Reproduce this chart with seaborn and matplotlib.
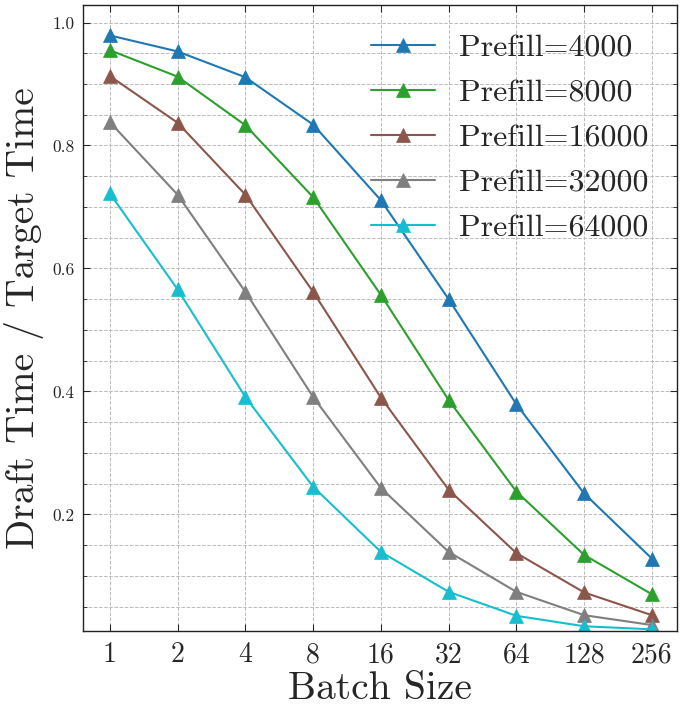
import numpy as np
import pandas as pd
import seaborn as sns
import matplotlib
matplotlib.use("Agg")
import matplotlib.pyplot as plt
from matplotlib.ticker import MultipleLocator, FixedLocator, NullLocator, FixedFormatter

batch_sizes = [1, 2, 4, 8, 16, 32, 64, 128, 256]
batch_labels = ["1", "2", "4", "8", "16", "32", "64", "128", "256"]
prefill_labels = ["Prefill=4000", "Prefill=8000", "Prefill=16000", "Prefill=32000", "Prefill=64000"]
ratio_4000 = [0.979, 0.953, 0.911, 0.834, 0.711, 0.550, 0.379, 0.234, 0.128]
ratio_8000 = [0.955, 0.912, 0.833, 0.716, 0.557, 0.386, 0.237, 0.134, 0.070]
ratio_16000 = [0.913, 0.837, 0.720, 0.562, 0.390, 0.240, 0.137, 0.073, 0.036]
ratio_32000 = [0.838, 0.720, 0.562, 0.391, 0.243, 0.139, 0.074, 0.036, 0.020]
ratio_64000 = [0.722, 0.566, 0.391, 0.245, 0.139, 0.074, 0.035, 0.018, 0.013]
colors = ["#1f77b4", "#2ca02c", "#8c564b", "#7f7f7f", "#17becf"]

series = [ratio_4000, ratio_8000, ratio_16000, ratio_32000, ratio_64000]
rows = []
for lab, vals in zip(prefill_labels, series):
    for b, v in zip(batch_sizes, vals):
        rows.append({"Batch Size": b, "Ratio": v, "Prefill": lab})
df = pd.DataFrame(rows)

sns.set_style("ticks")
plt.rcParams["font.family"] = ["cmr10"]
plt.rcParams["mathtext.fontset"] = "cm"
plt.rcParams["axes.formatter.use_mathtext"] = True
plt.rcParams["axes.unicode_minus"] = False

fig = plt.figure(figsize=(6.84, 7.09), dpi=100)
ax = fig.add_axes([82.7 / 684, 1 - 631 / 709, (677 - 82.7) / 684, (631 - 4.7) / 709])

sns.lineplot(data=df, x="Batch Size", y="Ratio", hue="Prefill", hue_order=prefill_labels,
             palette=colors, marker="^", markersize=10, markeredgewidth=0.5,
             linewidth=1.5, dashes=False, ax=ax, legend=True)
for ln in ax.get_lines():
    ln.set_markeredgecolor(ln.get_color())

ax.set_xscale("log", base=2)
ax.set_xlim(2 ** -0.40, 256 * 2 ** 0.37)
ax.set_ylim(0.0103, 1.029)
ax.xaxis.set_major_locator(FixedLocator(batch_sizes))
ax.xaxis.set_major_formatter(FixedFormatter(batch_labels))
ax.xaxis.set_minor_locator(NullLocator())
ax.yaxis.set_major_locator(MultipleLocator(0.2))
ax.yaxis.set_minor_locator(MultipleLocator(0.05))
ax.yaxis.set_major_formatter(plt.FuncFormatter(lambda v, p: f"{v:.1f}"))

ax.grid(True, which="both", axis="y", linestyle="--", color="#bbbbbb", linewidth=0.7)
ax.grid(True, which="major", axis="x", linestyle="--", color="#bbbbbb", linewidth=0.7)

ax.tick_params(axis="both", which="both", direction="in", top=True, right=True)
ax.tick_params(axis="both", which="major", length=5, width=0.8)
ax.tick_params(axis="both", which="minor", length=3, width=0.6)
ax.tick_params(axis="x", labelsize=20, pad=8)
ax.tick_params(axis="y", labelsize=12.5, pad=6)
for s in ax.spines.values():
    s.set_linewidth(1.0)
    s.set_color("#222222")

ax.set_xlabel("Batch Size", fontsize=28.5, labelpad=2)
ax.set_ylabel("Draft Time / Target Time", fontsize=28.5, labelpad=6)

leg = ax.legend(loc="upper right", frameon=False, fontsize=23, handlelength=2.0,
                labelspacing=0.52, borderaxespad=0.4, handletextpad=0.75,
                bbox_to_anchor=(0.995, 0.994))
for h in leg.legend_handles:
    h.set_markeredgecolor(h.get_color())

fig.savefig("out.png", dpi=100)
